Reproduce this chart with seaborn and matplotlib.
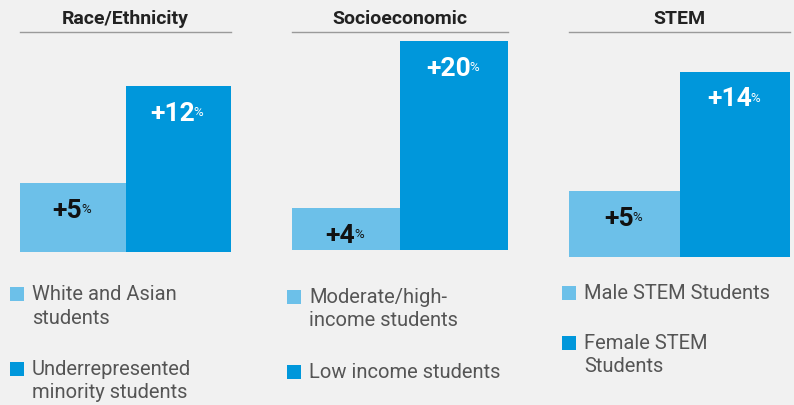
import matplotlib
matplotlib.use("Agg")
import matplotlib.pyplot as plt
from matplotlib.patches import Rectangle
import seaborn as sns

# datos
grupos = ["Race/Ethnicity", "Socioeconomic", "STEM"]
etiquetas_base = ["White and Asian\nstudents", "Moderate/high-\nincome students", "Male STEM Students"]
etiquetas_foco = ["Underrepresented\nminority students", "Low income students", "Female STEM\nStudents"]
valores_base = [5, 4, 5]
valores_foco = [12, 20, 14]

# estilo
fondo = "#f1f1f1"
claro = "#6cc0e9"
oscuro = "#0097db"
sns.set_theme(style="white")
plt.rcParams["font.family"] = ["Roboto", "DejaVu Sans"]

W, H = 794, 405
fig = plt.figure(figsize=(W / 100, H / 100), dpi=100, facecolor=fondo)

# cajas de cada panel en pixeles (izq, arriba, der, abajo) y tope del eje y
cajas = [(20, 32, 231, 252), (292, 32, 508, 250), (569, 32, 790, 257)]
ytope = [15.9, 20.9, 17.0]
leyenda_x = [10, 287, 562]
leyenda_y = [287, 290, 286]


def caja_px(l, t, r, b):
    return [l / W, 1 - b / H, (r - l) / W, (b - t) / H]


for i, grupo in enumerate(grupos):
    ax = fig.add_axes(caja_px(*cajas[i]))
    ax.set_facecolor(fondo)
    cats = [etiquetas_base[i], etiquetas_foco[i]]
    vals = [valores_base[i], valores_foco[i]]
    sns.barplot(x=cats, y=vals, hue=cats, palette=[claro, oscuro], width=1,
                saturation=1, legend=False, linewidth=0, ax=ax)
    ax.set_xlim(-0.5, 1.5)
    ax.set_ylim(0, ytope[i])
    ax.set_xticks([])
    ax.set_yticks([])
    ax.set_xlabel("")
    ax.set_ylabel("")
    for lado in ["left", "right", "bottom"]:
        ax.spines[lado].set_visible(False)
    ax.spines["top"].set_color("#9a9a9a")
    ax.spines["top"].set_linewidth(1)
    ax.set_title(grupo, fontsize=14, fontweight="bold", color="#222222", pad=6)

    # etiquetas de valor
    for j, v in enumerate(vals):
        color = "#111111" if j == 0 else "white"
        num = ax.annotate(f"+{v}", xy=(j, v), xytext=(-4, -20), textcoords="offset points",
                          ha="center", va="center", fontsize=19, fontweight="bold", color=color)
        ax.annotate("%", xy=(0.97, 0.55), xycoords=num, ha="left", va="center",
                    fontsize=9.5, color=color)

    # leyenda manual
    y = leyenda_y[i]
    x = leyenda_x[i]
    for color, texto in [(claro, etiquetas_base[i]), (oscuro, etiquetas_foco[i])]:
        fig.patches.append(Rectangle((x / W, 1 - (y + 14) / H), 14 / W, 14 / H,
                                     transform=fig.transFigure, facecolor=color,
                                     edgecolor="none", figure=fig))
        fig.text((x + 22) / W, 1 - (y - 2) / H, texto, ha="left", va="top",
                 fontsize=14.5, color="#555555", linespacing=1.3)
        y += texto.count("\n") * 25 + 24 + 26

fig.savefig("out.png", dpi=100, facecolor=fondo)
